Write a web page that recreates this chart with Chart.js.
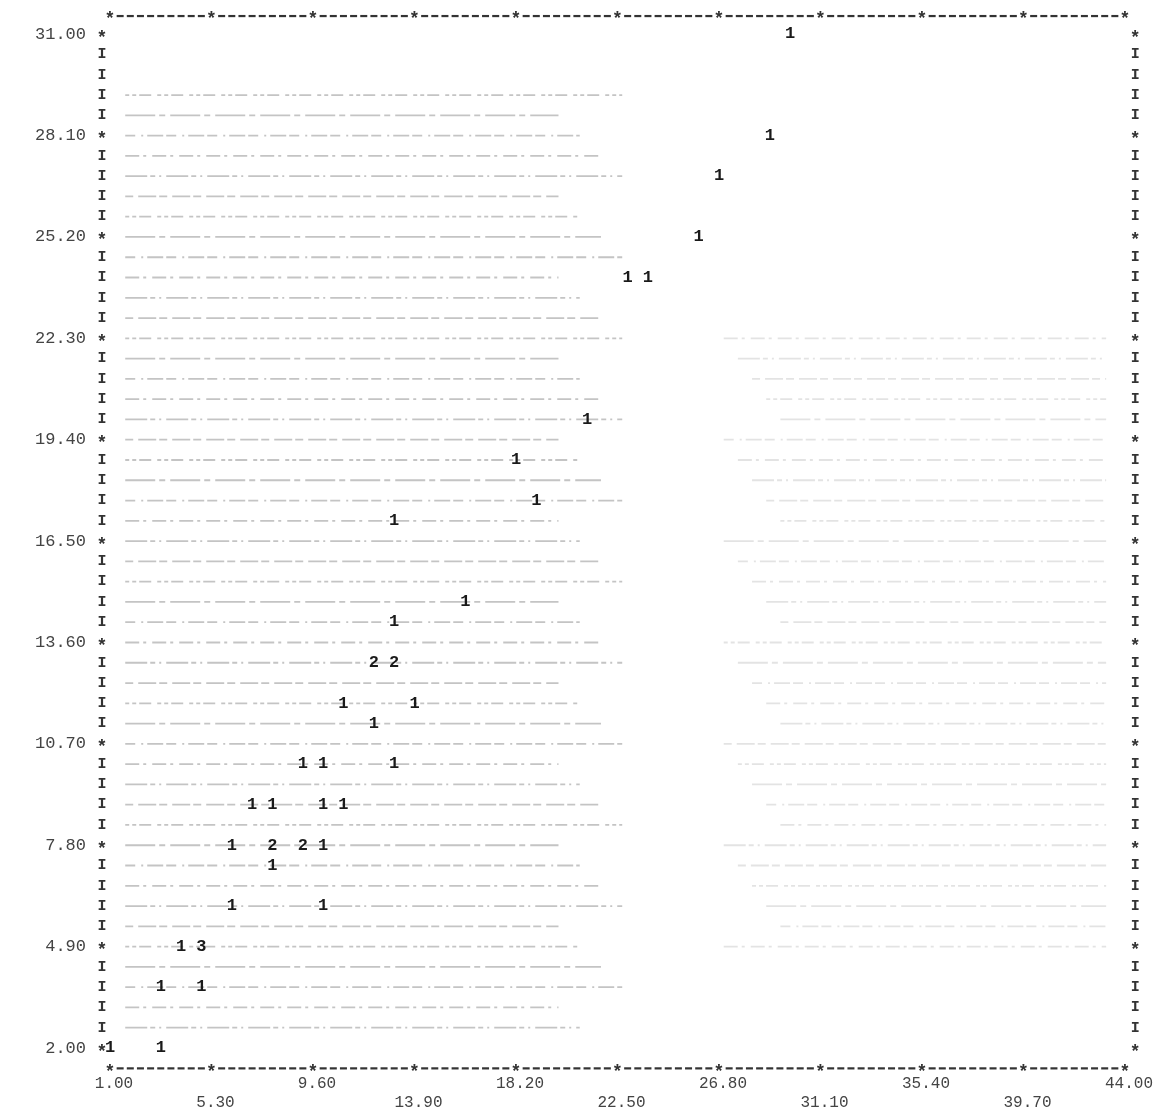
<!DOCTYPE html>
<html>
<head>
<meta charset="utf-8">
<script src="https://cdn.jsdelivr.net/npm/chart.js@4.4.1/dist/chart.umd.min.js"></script>
<style>
html, body { margin: 0; padding: 0; background: #fff; }
#wrap { width: 1176px; height: 1111px; position: relative; }
</style>
</head>
<body>
<div id="wrap"><canvas id="plot"></canvas></div>
<script>
var xTickLabels = ['1.00', '5.30', '9.60', '13.90', '18.20', '22.50', '26.80', '31.10', '35.40', '39.70', '44.00'];
var yTickLabels = ['2.00', '4.90', '7.80', '10.70', '13.60', '16.50', '19.40', '22.30', '25.20', '28.10', '31.00'];

// plotted positions and how many observations fall on each print cell
var pointX = [29.81, 28.95, 26.80, 25.94, 22.93, 23.79, 21.21, 18.20, 19.06, 13.04,
              16.05, 13.04, 12.18, 13.04, 10.89, 13.90, 12.18, 9.17, 10.03, 13.04,
              7.02, 7.88, 10.03, 10.89, 6.16, 7.88, 9.17, 10.03, 7.88, 6.16,
              10.03, 4.01, 4.87, 3.15, 4.87, 1.00, 3.15];
var pointY = [31.00, 28.10, 26.94, 25.20, 24.04, 24.04, 19.98, 18.82, 17.66, 17.08,
              14.76, 14.18, 13.02, 13.02, 11.86, 11.86, 11.28, 10.12, 10.12, 10.12,
              8.96, 8.96, 8.96, 8.96, 7.80, 7.80, 7.80, 7.80, 7.22, 6.06,
              6.06, 4.90, 4.90, 3.74, 3.74, 2.00, 2.00];
var pointCount = [1, 1, 1, 1, 1, 1, 1, 1, 1, 1,
                  1, 1, 2, 2, 1, 1, 1, 1, 1, 1,
                  1, 1, 1, 1, 1, 2, 2, 1, 1, 1,
                  1, 1, 3, 1, 1, 1, 1];

var xMin = 1, xMax = 44, yMin = 2, yMax = 31;
var colStep = (xMax - xMin) / 100;   // one printer column
var rowStep = (yMax - yMin) / 50;    // one printer line

var mono = '"Liberation Mono", "DejaVu Sans Mono", monospace';

// faint ribbon marks left on the paper, one dash rhythm per line
var ribbonDashes = [[14, 4, 3, 6], [22, 3, 5, 4, 2, 5], [8, 5, 18, 3], [4, 3, 4, 3, 12, 6], [30, 4, 6, 5], [10, 6, 2, 4, 16, 3]];

var printerFrame = {
    id: 'printerFrame',
    beforeDatasetsDraw: function (chart) {
        var ctx = chart.ctx, xs = chart.scales.x, ys = chart.scales.y;
        ctx.save();
        ctx.lineWidth = 1.8;
        for (var r = 3; r <= 49; r++) {
            var py = ys.getPixelForValue(yMax - r * rowStep);
            ctx.setLineDash(ribbonDashes[r % ribbonDashes.length]);
            ctx.strokeStyle = 'rgba(60,60,60,0.30)';
            ctx.beginPath();
            ctx.moveTo(xs.getPixelForValue(xMin + colStep * 1.5), py);
            ctx.lineTo(xs.getPixelForValue(20 + (r % 4) * 0.9), py);
            ctx.stroke();
            if (r > 14 && r < 46) {
                ctx.strokeStyle = 'rgba(60,60,60,0.14)';
                ctx.setLineDash(ribbonDashes[(r + 3) % ribbonDashes.length]);
                ctx.beginPath();
                ctx.moveTo(xs.getPixelForValue(27 + (r % 5) * 0.6), py);
                ctx.lineTo(xs.getPixelForValue(43.2), py);
                ctx.stroke();
            }
        }
        ctx.restore();
    },
    afterDatasetsDraw: function (chart) {
        var ctx = chart.ctx, xs = chart.scales.x, ys = chart.scales.y;
        ctx.save();
        ctx.textAlign = 'center';
        ctx.textBaseline = 'middle';
        ctx.fillStyle = '#333';

        // top and bottom rules: a dash per column, a star every ten
        var top = ys.getPixelForValue(yMax + rowStep * 0.9);
        var bottom = ys.getPixelForValue(yMin - rowStep);
        for (var c = 0; c <= 100; c++) {
            var px = xs.getPixelForValue(xMin + c * colStep);
            if (c % 10 === 0) {
                ctx.font = 'bold 18px ' + mono;
                ctx.fillText('*', px, top + 4);
                ctx.fillText('*', px, bottom + 4);
            } else {
                ctx.fillRect(px - 3.5, top - 1, 7, 2.2);
                ctx.fillRect(px - 3.5, bottom - 1, 7, 2.2);
            }
        }

        // side columns: I per line, star on labelled lines
        var left = xs.getPixelForValue(xMin - colStep * 0.8);
        var right = xs.getPixelForValue(xMax + colStep);
        for (var r = 0; r <= 50; r++) {
            var py = ys.getPixelForValue(yMax - r * rowStep);
            if (r % 5 === 0) {
                ctx.font = 'bold 18px ' + mono;
                ctx.fillText('*', left, py + 4);
                ctx.fillText('*', right, py + 4);
            } else {
                ctx.font = 'bold 15px ' + mono;
                ctx.fillText('I', left, py);
                ctx.fillText('I', right, py);
            }
        }

        // the plotted counts
        ctx.font = 'bold 17px ' + mono;
        ctx.fillStyle = '#1a1a1a';
        chart.getDatasetMeta(0).data.forEach(function (el, i) {
            ctx.fillText(String(pointCount[i]), el.x, el.y);
        });
        ctx.restore();
    }
};

new Chart(document.getElementById('plot'), {
    type: 'scatter',
    data: {
        datasets: [{
            data: pointX.map(function (x, i) { return { x: x, y: pointY[i] }; }),
            pointRadius: 0,
            pointHoverRadius: 0
        }]
    },
    options: {
        responsive: true,
        maintainAspectRatio: false,
        animation: false,
        events: [],
        layout: { padding: { top: 29, right: 37, left: 0, bottom: 0 } },
        plugins: { legend: { display: false }, tooltip: { enabled: false } },
        scales: {
            x: {
                type: 'linear',
                min: xMin,
                max: xMax,
                grid: { display: false, drawTicks: false },
                border: { display: false },
                afterBuildTicks: function (scale) {
                    scale.ticks = xTickLabels.map(function (t) { return { value: parseFloat(t) }; });
                },
                afterFit: function (scale) { scale.height = 63; },
                ticks: {
                    autoSkip: false,
                    maxRotation: 0,
                    padding: 27,
                    labelOffset: 4,
                    color: '#444',
                    font: { family: mono, size: 16, lineHeight: 1.15 },
                    callback: function (v, i) {
                        return i % 2 === 0 ? [xTickLabels[i], ''] : ['', xTickLabels[i]];
                    }
                }
            },
            y: {
                type: 'linear',
                min: yMin,
                max: yMax,
                grid: { display: false, drawTicks: false },
                border: { display: false },
                afterBuildTicks: function (scale) {
                    scale.ticks = yTickLabels.map(function (t) { return { value: parseFloat(t) }; });
                },
                afterFit: function (scale) { scale.width = 110; },
                ticks: {
                    autoSkip: false,
                    padding: 24,
                    color: '#444',
                    font: { family: mono, size: 17 },
                    callback: function (v, i) { return yTickLabels[i]; }
                }
            }
        }
    },
    plugins: [printerFrame]
});
</script>
</body>
</html>
